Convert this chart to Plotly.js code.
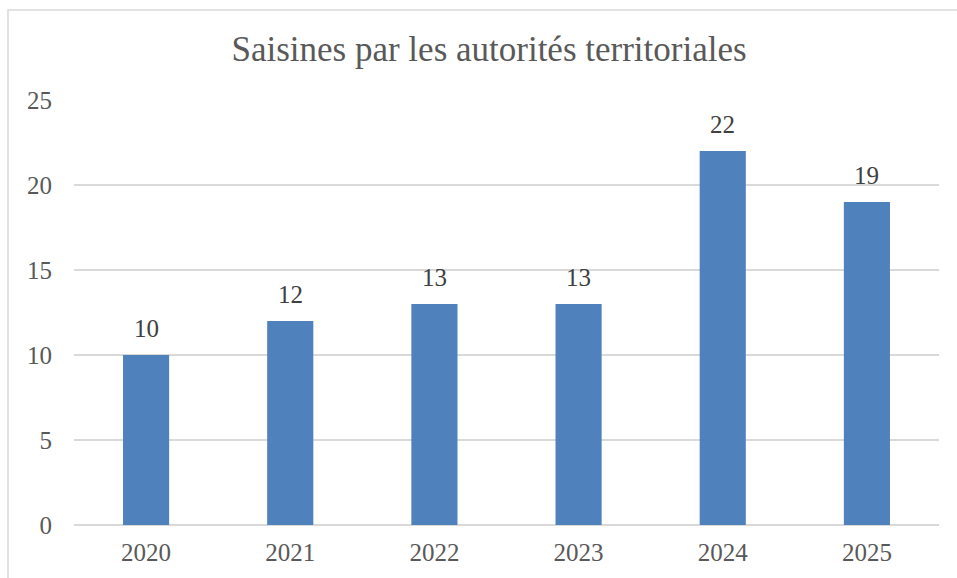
<!DOCTYPE html>
<html><head><meta charset="utf-8">
<script src="https://cdn.plot.ly/plotly-3.0.1.min.js"></script>
<style>html,body{margin:0;padding:0;background:#fff}#c{width:957px;height:578px}</style>
</head><body><div id="c"></div>
<script>
const years = ["2020","2021","2022","2023","2024","2025"];
const saisines = [10, 12, 13, 13, 22, 19];
const yTicks = [0, 5, 10, 15, 20, 25];
const titleText = "Saisines par les autorités territoriales";

const font = "Liberation Serif, Times New Roman, serif";
const labels = saisines.map((v, i) => ({
  x: i, y: v, xref: "x", yref: "y",
  text: String(v), showarrow: false,
  yanchor: "bottom", yshift: 11,
  font: {family: font, size: 25, color: "#404040"}
}));
Plotly.newPlot("c", [{
  type: "bar",
  x: years,
  y: saisines,
  marker: {color: "#4f81bd"},
  hoverinfo: "none"
}], {
  width: 957, height: 578,
  margin: {l: 74, r: 18, t: 100, b: 53, pad: 0},
  paper_bgcolor: "#fff", plot_bgcolor: "#fff",
  bargap: 0.68,
  showlegend: false,
  annotations: labels,
  title: {text: titleText, font: {family: font, size: 35, color: "#595959"}, x: 0.511, xanchor: "center", y: 0.915, yanchor: "middle"},
  xaxis: {type: "category", range: [-0.5, years.length - 0.5], autorange: false, tickfont: {family: font, size: 25, color: "#595959"}, showgrid: false, zeroline: false, showline: false, ticks: "", ticklabelstandoff: 10},
  yaxis: {range: [0, 25], autorange: false, tickvals: yTicks, tickfont: {family: font, size: 25, color: "#595959"}, showgrid: true, gridcolor: "#d9d9d9", gridwidth: 1.5, zeroline: true, zerolinecolor: "#d9d9d9", zerolinewidth: 1.5, showline: false, ticks: "", ticklabelstandoff: 21},
  shapes: [{type: "rect", xref: "paper", yref: "paper", x0: -66/865, x1: 1.1, y0: -0.2, y1: 1 + 90/425, line: {color: "#d9d9d9", width: 1.5}, fillcolor: "rgba(0,0,0,0)", layer: "below"}]
}, {staticPlot: true});
</script></body></html>
